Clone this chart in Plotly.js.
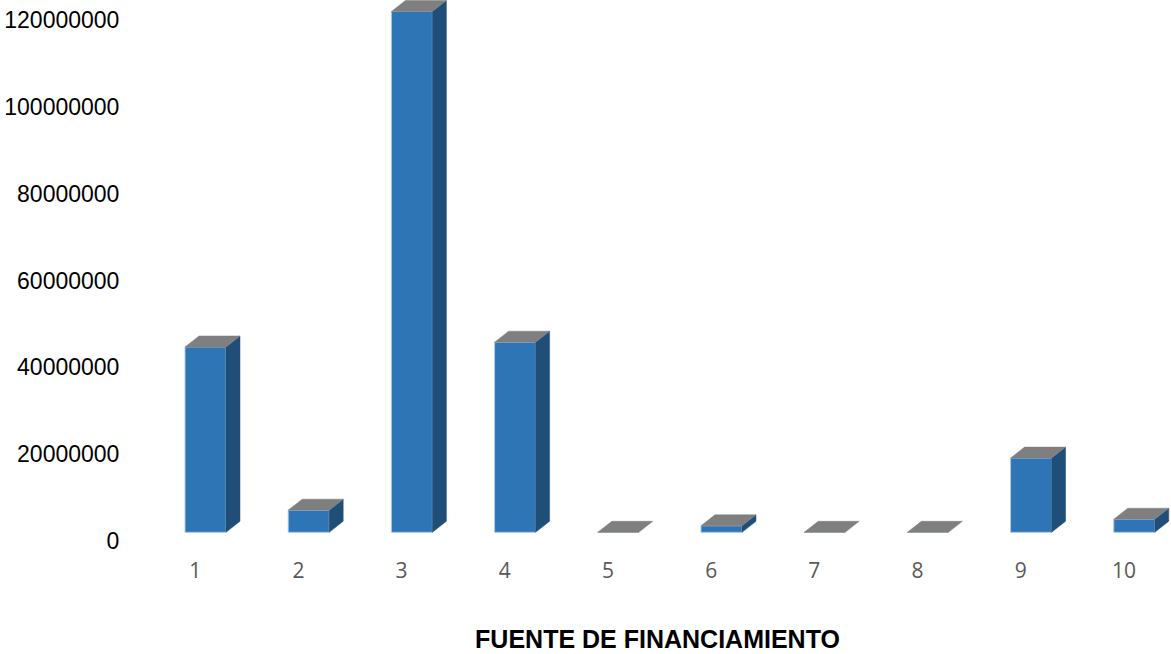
<!DOCTYPE html>
<html>
<head>
<meta charset="utf-8">
<script src="https://cdn.plot.ly/plotly-3.0.1.min.js"></script>
<style>
  html, body { margin: 0; padding: 0; background: #ffffff; }
  #chart { width: 1171px; height: 654px; }
</style>
</head>
<body>
<div id="chart"></div>
<script>
// ---- data ----
var categories = [1, 2, 3, 4, 5, 6, 7, 8, 9, 10];
var tickLabels = ["1", "2", "3", "4", "5", "6", "7", "8", "9", "10"];
var values = [42700000, 5100000, 120000000, 43800000, 0, 1500000, 0, 0, 17100000, 3000000];
var yTicks = [0, 20000000, 40000000, 60000000, 80000000, 100000000, 120000000];
var axisTitle = "FUENTE DE FINANCIAMIENTO";

// ---- 3D styling (geometry of the pseudo-3D boxes) ----
var barW = 0.397;        // front face width, in category units
var depthX = 0.1357;     // oblique depth, x (category units)
var depthY = 2535000;    // oblique depth, y (value units)
var labelShift = -0.1;   // category label offset

var frontColor = "#2E75B6";
var sideColor = "#1F4E79";
var topColor = "#7F7F7F";

var sideX = [], sideY = [], topX = [], topY = [];
categories.forEach(function (c, i) {
  var v = values[i];
  var xl = c - barW / 2, xr = c + barW / 2;
  if (v > 0) {
    sideX.push(xr, xr + depthX, xr + depthX, xr, xr, null);
    sideY.push(0, depthY, v + depthY, v, 0, null);
  }
  topX.push(xl, xr, xr + depthX, xl + depthX, xl, null);
  topY.push(v, v, v + depthY, v + depthY, v, null);
});

var traces = [
  {
    // carries the value axis (back wall scale) so its tick labels are drawn
    type: "scatter",
    mode: "none",
    x: yTicks.map(function () { return categories[0]; }),
    y: yTicks,
    yaxis: "y",
    hoverinfo: "skip",
    showlegend: false
  },
  {
    type: "bar",
    x: categories,
    y: values,
    width: barW,
    yaxis: "y2",
    marker: { color: frontColor, line: { color: "rgba(170,200,235,0.9)", width: 1 } },
    hoverinfo: "x+y",
    showlegend: false
  },
  {
    type: "scatter",
    mode: "lines",
    x: sideX,
    y: sideY,
    yaxis: "y2",
    fill: "toself",
    fillcolor: sideColor,
    line: { color: sideColor, width: 0.5 },
    hoverinfo: "skip",
    showlegend: false
  },
  {
    type: "scatter",
    mode: "lines",
    x: topX,
    y: topY,
    yaxis: "y2",
    fill: "toself",
    fillcolor: topColor,
    line: { color: topColor, width: 0.5 },
    hoverinfo: "skip",
    showlegend: false
  }
];

var layout = {
  width: 1171,
  height: 654,
  margin: { l: 144, r: 0, t: 0, b: 104 },
  paper_bgcolor: "#ffffff",
  plot_bgcolor: "#ffffff",
  showlegend: false,
  xaxis: {
    range: [0.404, 10.356],
    tickmode: "array",
    tickvals: categories.map(function (c) { return c + labelShift; }),
    ticktext: tickLabels,
    ticks: "outside",
    ticklen: 2,
    tickcolor: "rgba(0,0,0,0)",
    showgrid: false,
    zeroline: false,
    showline: false,
    tickfont: { family: "Open Sans, sans-serif", size: 21, color: "#595959" },
    title: {
      text: axisTitle,
      font: { family: "Liberation Sans, Arial, sans-serif", size: 25, color: "#000000", weight: "bold" },
      standoff: 47
    }
  },
  yaxis: {
    range: [-2074000, 124650000],
    tickmode: "array",
    tickvals: yTicks,
    ticktext: yTicks.map(function (v) { return String(v); }),
    ticks: "outside",
    ticklen: 19,
    tickcolor: "rgba(0,0,0,0)",
    showgrid: false,
    zeroline: false,
    showline: false,
    tickfont: { family: "Liberation Sans, Arial, sans-serif", size: 23, color: "#000000" }
  },
  yaxis2: {
    range: [-4078000, 122650000],
    overlaying: "y",
    visible: false,
    showgrid: false,
    zeroline: false
  }
};

Plotly.newPlot("chart", traces, layout, { displayModeBar: false });
</script>
</body>
</html>
